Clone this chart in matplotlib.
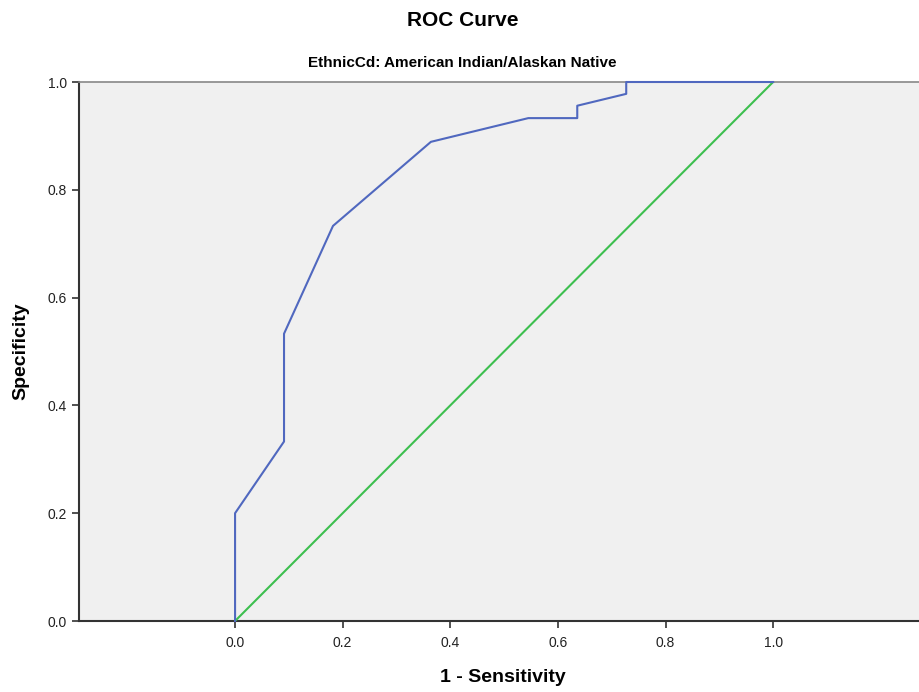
import matplotlib
matplotlib.use("Agg")
import matplotlib.pyplot as plt

fpr = [0.0, 0.0, 0.091, 0.091, 0.182, 0.364, 0.545, 0.636, 0.636, 0.727, 0.727, 1.0]
tpr = [0.0, 0.2, 0.333, 0.533, 0.733, 0.889, 0.933, 0.933, 0.956, 0.978, 1.0, 1.0]
ref_x = [0.0, 1.0]
ref_y = [0.0, 1.0]
xticks = [0.0, 0.2, 0.4, 0.6, 0.8, 1.0]
yticks = [0.0, 0.2, 0.4, 0.6, 0.8, 1.0]

plt.rcParams['font.family'] = ['Liberation Sans', 'DejaVu Sans']

fig = plt.figure(figsize=(9.2, 6.92), dpi=100)
ax = fig.add_axes([0.0859, 0.1026, 1 - 0.0859, 0.8815 - 0.1026])
ax.set_facecolor('#f0f0f0')
ax.plot(ref_x, ref_y, color='#3dbf4f', lw=1.5, zorder=3)
ax.plot(fpr, tpr, color='#5068bf', lw=1.5, zorder=4, clip_on=False)
ax.set_xlim(-0.29, 1.273)
ax.set_ylim(0, 1)
ax.set_xticks(xticks)
ax.set_yticks(yticks)
ax.set_xticklabels([f"{t:.1f}" for t in xticks])
ax.set_yticklabels([f"{t:.1f}" for t in yticks])
ax.tick_params(axis='both', labelsize=10, length=5, width=1.2, color='#333333', labelcolor='#222222', direction='out')
ax.tick_params(axis='x', pad=6)
ax.spines['right'].set_visible(False)
ax.spines['top'].set_color('#888888')
ax.spines['top'].set_linewidth(1.2)
ax.spines['left'].set_color('#333333')
ax.spines['bottom'].set_color('#333333')
ax.spines['left'].set_linewidth(1.5)
ax.spines['bottom'].set_linewidth(1.5)
ax.set_ylabel('Specificity', fontsize=14, fontweight='bold', labelpad=13)
fig.text(503 / 920, 1 - 678 / 692, '1 - Sensitivity', ha='center', va='center', fontsize=14, fontweight='bold')
fig.text(463 / 920, 1 - 20 / 692, 'ROC Curve', ha='center', va='center', fontsize=15, fontweight='bold')
fig.text(462 / 920, 1 - 63 / 692, 'EthnicCd: American Indian/Alaskan Native', ha='center', va='center', fontsize=11, fontweight='bold')
fig.savefig('out.png', dpi=100)
